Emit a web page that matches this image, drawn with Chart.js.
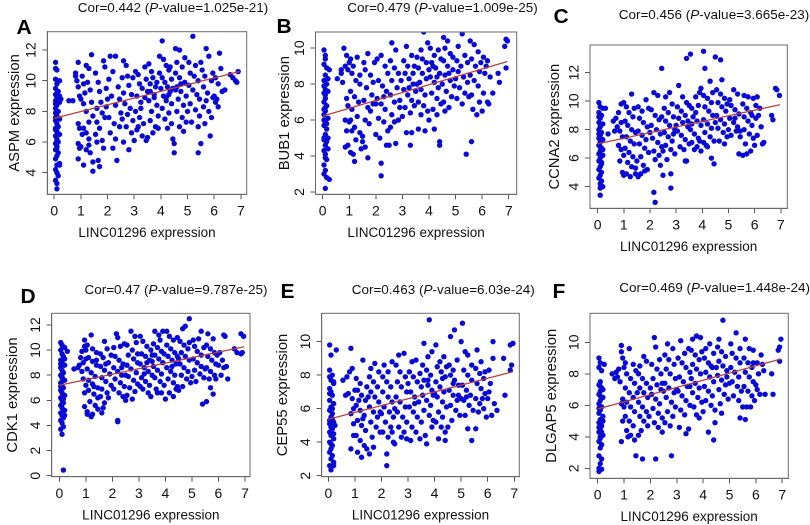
<!DOCTYPE html>
<html>
<head>
<meta charset="utf-8">
<script src="https://cdn.jsdelivr.net/npm/chart.js@4.4.1/dist/chart.umd.min.js"></script>
<style>
  html, body { margin: 0; padding: 0; background: #fff; }
  #wrap { position: relative; width: 810px; height: 525px; overflow: hidden; font-family: "Liberation Sans", Arial, sans-serif; }
  canvas { position: absolute; }
  .ttl { position: absolute; transform: translate(-50%, -50%); white-space: nowrap; font-size: 13.5px; line-height: 1; color: #111; }
  .lett { position: absolute; transform: translate(-50%, -50%); font-size: 21px; font-weight: bold; line-height: 1; color: #000; }
</style>
</head>
<body>
<div id="wrap"></div>
<script>
// ---------------- DATA ----------------
const xTicks = [0, 1, 2, 3, 4, 5, 6, 7];
const xLabel = 'LINC01296 expression';

const yTicksA = [4, 6, 8, 10, 12];
const yTicksB = [2, 4, 6, 8, 10];
const yTicksC = [4, 6, 8, 10, 12];
const yTicksD = [0, 2, 4, 6, 8, 10, 12];
const yTicksE = [2, 4, 6, 8, 10];
const yTicksF = [2, 4, 6, 8, 10];

const yLabels = ['ASPM expression', 'BUB1 expression', 'CCNA2 expression', 'CDK1 expression', 'CEP55 expression', 'DLGAP5 expression'];
const panelLetters = ['A', 'B', 'C', 'D', 'E', 'F'];
const corValues = ['0.442', '0.479', '0.456', '0.47', '0.463', '0.469'];
const pValues = ['1.025e-21', '1.009e-25', '3.665e-23', '9.787e-25', '6.03e-24', '1.448e-24'];

// fitted regression lines: [x, y] at both ends
const fitA = [[0, 7.55], [6.95, 10.6]];
const fitB = [[0, 6.22], [6.95, 9.26]];
const fitC = [[0, 7.0], [6.97, 9.75]];
const fitD = [[0, 7.2], [6.97, 10.27]];
const fitE = [[0, 5.37], [6.95, 8.2]];
const fitF = [[0, 5.77], [6.95, 8.94]];

const ptsA = [
[0.05,11.2],[0.05,10.8],[0.1,10.7],[0.2,10.0],[0.05,10.1],[0.1,9.8],[0.05,9.5],[0.15,9.3],[0.05,9.1],[0.1,8.9],
[0.05,8.7],[0.2,8.6],[0.1,8.4],[0.05,8.2],[0.15,8.0],[0.05,7.9],[0.1,7.7],[0.2,7.5],[0.05,7.4],[0.1,7.2],
[0.15,7.0],[0.05,6.9],[0.1,6.7],[0.2,6.5],[0.05,6.4],[0.1,6.2],[0.15,6.0],[0.05,5.9],[0.1,5.7],[0.05,5.5],
[0.15,5.3],[0.1,5.1],[0.05,4.9],[0.2,4.6],[0.1,4.5],[0.05,4.2],[0.1,4.0],[0.15,3.8],[0.05,3.5],[0.1,3.3],
[0.1,2.95],[0.05,8.5],[0.1,9.2],[0.05,6.8],[0.1,5.6],[0.2,9.0],[0.25,8.8],[0.2,4.5],[0.05,7.6],[0.1,6.1],
[0.55,8.7],[0.7,8.7],[0.8,10.5],[0.9,11.2],[0.85,10.0],[0.9,9.6],[0.95,9.0],[1.0,8.8],[0.9,7.2],[0.95,6.9],
[0.9,5.9],[0.95,5.6],[0.9,4.9],[1.0,5.7],[0.8,10.3],
[1.05,10.3],[1.1,9.8],[1.2,11.0],[1.3,10.8],[1.15,9.2],[1.1,8.5],[1.2,8.0],[1.3,7.3],[1.1,6.9],[1.2,6.6],
[1.05,6.5],[1.3,6.2],[1.2,5.5],[1.35,5.3],[1.1,4.5],[1.45,4.7],[1.45,4.1],[1.4,11.7],[1.35,9.4],[1.4,8.6],
[1.25,9.9],[1.45,7.7],[1.3,5.8],
[1.55,10.5],[1.65,9.9],[1.7,9.3],[1.6,8.2],[1.75,8.6],[1.8,7.9],[1.6,7.3],[1.7,6.9],[1.55,6.5],[1.8,6.1],
[1.65,4.8],[1.7,4.4],[1.9,10.9],[1.85,11.3],[1.95,9.5],[1.95,8.3],[1.9,7.6],[1.6,6.0],[1.85,5.6],
[2.1,11.6],[2.3,11.6],[2.05,10.1],[2.2,10.6],[2.15,9.0],[2.3,8.4],[2.05,7.6],[2.25,7.2],[2.1,6.6],[2.3,6.2],
[2.2,5.6],[2.35,4.8],[2.4,9.6],[2.45,8.8],[2.5,7.9],[2.0,8.8],[2.45,7.0],
[2.6,11.3],[2.7,11.0],[2.55,10.2],[2.75,10.3],[2.8,9.7],[2.6,9.2],[2.65,8.5],[2.85,8.2],[2.55,7.5],[2.7,7.0],
[2.9,6.6],[2.6,6.0],[2.8,5.5],[2.95,10.2],[2.9,9.1],[2.75,7.8],[2.95,7.4],[3.0,6.1],
[3.05,10.6],[3.15,10.4],[3.2,9.8],[3.3,9.5],[3.1,9.0],[3.25,8.6],[3.4,8.9],[3.05,8.0],[3.2,7.6],[3.35,7.2],
[3.1,6.8],[3.3,6.4],[3.45,6.1],[3.4,10.9],[3.45,10.1],[3.25,8.2],[3.5,9.3],[3.15,7.0],
[3.55,11.1],[3.65,10.6],[3.7,10.2],[3.6,9.8],[3.8,9.6],[3.75,9.1],[3.55,8.7],[3.85,8.4],[3.65,8.0],[3.9,7.7],
[3.6,7.4],[3.8,7.0],[3.7,6.6],[3.95,11.6],[3.95,10.5],[3.85,9.9],[3.5,6.3],[3.9,6.9],[3.75,8.9],[3.6,9.3],
[4.05,12.6],[4.1,11.4],[4.2,11.0],[4.3,10.7],[4.05,10.2],[4.15,9.9],[4.25,9.6],[4.35,9.3],[4.1,9.0],[4.2,8.7],
[4.4,8.5],[4.05,8.2],[4.3,7.9],[4.15,7.5],[4.4,7.2],[4.25,6.9],[4.45,6.2],[4.5,5.9],[4.5,5.3],[4.4,10.1],
[4.45,9.5],[4.35,10.9],[4.0,9.5],[4.2,8.9],[4.3,9.1],
[4.55,12.1],[4.7,12.0],[4.6,11.2],[4.8,10.9],[4.55,10.5],[4.7,10.2],[4.9,9.9],[4.6,9.6],[4.75,9.3],[4.95,9.0],
[4.65,8.8],[4.85,8.4],[4.6,8.0],[4.8,7.6],[4.95,7.3],[4.7,7.0],[4.85,6.7],[4.9,11.5],[4.55,9.4],[4.75,9.8],
[5.2,12.9],[5.05,11.2],[5.3,11.0],[5.1,10.5],[5.25,10.3],[5.4,10.0],[5.05,9.7],[5.2,9.4],[5.35,9.1],[5.45,8.8],
[5.1,8.5],[5.3,8.1],[5.45,7.7],[5.15,7.3],[5.4,7.0],[5.4,5.3],[5.5,11.2],[5.0,8.0],
[5.55,10.7],[5.7,12.1],[5.8,11.6],[5.65,10.3],[5.9,10.0],[5.6,9.6],[5.75,9.2],[5.95,8.9],[5.6,8.3],[5.8,8.0],
[5.9,7.6],[5.65,7.2],[5.5,5.9],[5.85,6.4],[5.95,10.5],[5.7,8.7],
[6.2,11.8],[6.25,10.8],[6.05,10.2],[6.15,9.8],[6.0,9.0],[6.1,8.8],[6.3,9.3],[6.15,8.3],[6.6,10.4],[6.7,10.2],
[6.8,10.0],[6.9,10.6],[6.85,9.9],[6.4,9.4],[6.05,8.6]
];

const ptsB = [
[0.05,9.9],[0.1,9.6],[0.05,9.1],[0.15,8.9],[0.25,8.8],[0.1,8.5],[0.05,8.2],[0.15,8.0],[0.1,7.7],[0.05,7.5],
[0.2,7.6],[0.1,7.2],[0.05,7.0],[0.15,6.8],[0.1,6.5],[0.05,6.3],[0.2,6.1],[0.1,5.9],[0.05,5.7],[0.15,5.5],
[0.1,5.2],[0.05,5.0],[0.15,4.8],[0.1,4.6],[0.05,4.3],[0.1,4.1],[0.15,3.8],[0.05,3.5],[0.1,3.2],[0.05,3.0],
[0.15,2.8],[0.25,2.7],[0.1,2.2],[0.05,6.0],[0.1,6.7],[0.2,5.0],[0.05,4.9],[0.1,9.4],[0.2,8.3],[0.05,7.9],
[0.15,5.8],[0.1,3.9],[0.2,4.4],[0.05,6.6],[0.1,7.4],
[0.55,8.3],[0.7,8.6],[0.8,10.0],[0.9,9.6],[0.85,9.0],[0.95,8.8],[0.75,8.1],[0.9,7.2],[0.95,6.8],[0.85,6.0],
[0.9,5.4],[0.95,4.6],[0.85,4.5],[1.0,9.2],[0.7,8.8],
[1.05,9.4],[1.15,9.0],[1.3,9.5],[1.1,8.6],[1.25,8.2],[1.4,8.5],[1.05,7.6],[1.2,7.3],[1.35,7.0],[1.1,6.6],
[1.3,6.2],[1.05,6.0],[1.2,5.6],[1.4,5.3],[1.1,5.4],[1.25,4.9],[1.15,4.1],[1.05,4.2],[1.2,3.7],[1.45,4.4],
[1.4,8.0],[1.0,5.9],
[1.55,9.2],[1.7,9.7],[1.6,8.8],[1.8,8.5],[1.65,7.8],[1.85,7.4],[1.55,7.1],[1.7,6.7],[1.9,6.9],[1.6,6.0],
[1.75,5.8],[1.5,5.1],[1.6,4.5],[1.7,3.9],[1.95,9.2],[1.9,8.1],[1.8,6.5],[1.5,4.8],
[2.05,9.4],[2.2,9.6],[2.35,9.0],[2.1,8.2],[2.25,7.9],[2.4,7.6],[2.05,7.2],[2.2,6.9],[2.35,6.6],[2.1,6.1],
[2.3,5.9],[2.0,5.2],[2.15,5.0],[2.45,5.4],[2.2,3.6],[2.2,2.9],[2.4,4.6],[2.45,8.6],[2.0,6.9],[2.3,7.3],
[2.6,10.3],[2.75,9.9],[2.55,9.3],[2.7,8.9],[2.85,8.6],[2.6,8.2],[2.8,7.8],[2.55,7.4],[2.7,7.0],[2.9,6.7],
[2.6,6.3],[2.85,6.0],[2.55,5.6],[2.75,4.7],[2.95,8.2],[2.9,7.1],[2.7,5.9],[2.5,4.6],
[3.15,10.1],[3.05,9.3],[3.2,9.0],[3.35,9.6],[3.1,8.6],[3.25,8.3],[3.4,8.0],[3.05,7.7],[3.2,7.4],[3.35,7.1],
[3.1,6.7],[3.3,6.4],[3.45,6.8],[3.15,5.3],[3.35,5.3],[3.3,4.6],[3.45,9.0],[3.0,6.2],[3.25,7.8],[3.4,8.6],
[3.55,9.5],[3.7,9.9],[3.8,10.9],[3.6,8.9],[3.75,8.6],[3.9,8.3],[3.55,8.0],[3.7,7.7],[3.85,7.4],[3.6,7.0],
[3.8,6.8],[3.95,6.5],[3.7,6.3],[3.6,5.5],[3.85,5.4],[3.95,10.3],[3.9,9.2],[3.65,8.1],[3.5,7.6],[3.75,9.4],
[4.05,10.0],[4.2,9.6],[4.35,9.9],[4.1,9.2],[4.25,8.9],[4.4,8.6],[4.05,8.4],[4.2,8.1],[4.35,7.8],[4.1,7.5],
[4.3,7.2],[4.45,6.9],[4.15,6.6],[4.3,6.3],[4.0,6.0],[4.2,5.5],[4.4,4.8],[4.4,4.6],[4.45,9.4],[4.0,8.8],
[4.3,8.4],[4.15,9.0],
[4.55,10.6],[4.7,10.4],[4.6,10.0],[4.8,9.7],[4.55,9.3],[4.7,9.0],[4.9,8.8],[4.6,8.5],[4.8,8.2],[4.95,7.9],
[4.65,7.6],[4.85,7.3],[4.55,7.0],[4.75,6.7],[4.6,6.5],[4.9,9.5],[4.5,8.0],[4.75,8.6],
[5.1,10.1],[5.25,10.8],[5.35,9.6],[5.05,9.3],[5.2,9.0],[5.45,9.2],[5.1,8.7],[5.3,8.4],[5.45,8.1],[5.15,7.8],
[5.35,7.5],[5.05,7.2],[5.25,6.9],[5.4,4.1],[5.5,7.3],[5.0,8.3],
[5.55,10.4],[5.7,10.2],[5.85,9.8],[5.6,9.4],[5.75,9.0],[5.9,8.7],[5.55,8.5],[5.7,8.2],[5.85,7.9],[5.6,7.4],
[5.9,7.0],[5.65,6.6],[5.8,6.3],[5.6,4.8],[5.95,9.2],[6.0,6.5],
[6.05,9.5],[6.2,9.3],[6.1,8.6],[6.3,8.4],[6.05,7.5],[6.2,7.0],[6.4,7.5],[6.25,6.9],[6.6,8.6],[6.65,8.1],
[6.85,10.1],[6.95,10.4],[6.9,10.5],[6.9,8.9],[6.15,9.0]
];

const ptsC = [
[0.05,9.9],[0.1,9.6],[0.2,9.5],[0.05,9.2],[0.15,9.0],[0.1,8.8],[0.05,8.5],[0.2,8.4],[0.1,8.2],[0.05,8.0],
[0.15,7.8],[0.1,7.6],[0.05,7.4],[0.2,7.3],[0.1,7.1],[0.05,6.9],[0.15,6.7],[0.1,6.5],[0.05,6.3],[0.2,6.2],
[0.1,6.0],[0.05,5.8],[0.15,5.6],[0.1,5.4],[0.05,5.2],[0.15,5.0],[0.1,4.8],[0.05,4.6],[0.15,4.4],[0.1,4.2],
[0.2,4.0],[0.1,3.9],[0.1,3.4],[0.3,9.5],[0.4,7.7],[0.05,7.7],[0.1,6.8],[0.15,5.7],[0.05,8.9],[0.2,6.6],
[0.6,8.6],[0.7,8.8],[0.8,9.2],[0.9,9.8],[1.0,9.9],[0.75,8.2],[0.85,7.9],[0.95,7.5],[0.8,6.9],[0.9,6.6],
[1.0,6.2],[0.85,5.8],[0.95,5.0],[1.0,4.8],[0.65,7.9],[0.9,8.5],
[1.1,9.6],[1.3,10.5],[1.2,9.2],[1.35,8.9],[1.05,8.6],[1.15,8.3],[1.3,8.0],[1.45,7.8],[1.1,7.5],[1.25,7.2],
[1.4,7.0],[1.05,6.7],[1.2,6.4],[1.35,6.1],[1.15,5.7],[1.3,5.4],[1.1,4.9],[1.25,4.7],[1.45,5.3],[1.4,9.5],
[1.45,4.9],
[1.55,9.6],[1.7,9.3],[1.85,10.1],[1.6,8.8],[1.75,8.5],[1.9,8.2],[1.55,7.9],[1.7,7.6],[1.85,7.3],[1.6,7.0],
[1.8,6.7],[1.95,6.4],[1.65,6.1],[1.5,5.8],[1.75,5.5],[1.9,5.2],[1.65,4.9],[1.55,4.7],[1.95,9.5],[1.8,5.1],
[2.15,10.6],[2.3,10.4],[2.45,12.3],[2.05,9.4],[2.2,9.0],[2.35,8.7],[2.05,8.3],[2.25,8.0],[2.4,7.7],[2.1,7.4],
[2.3,7.1],[2.45,6.8],[2.15,6.5],[2.35,6.2],[2.2,5.9],[2.4,5.5],[2.5,4.8],[2.15,3.6],[2.2,2.9],[2.0,7.8],
[2.45,8.9],
[2.6,10.3],[2.75,10.6],[2.85,9.8],[2.55,9.5],[2.7,9.2],[2.9,8.9],[2.6,8.6],[2.75,8.3],[2.95,8.0],[2.55,7.8],
[2.7,7.5],[2.85,7.2],[2.6,6.9],[2.8,6.6],[2.95,6.3],[2.65,5.9],[2.8,4.9],[2.8,3.9],[2.5,6.5],[2.9,7.7],
[3.1,11.1],[3.25,10.3],[3.4,9.9],[3.05,9.6],[3.2,9.3],[3.35,9.0],[3.5,9.7],[3.1,8.8],[3.25,8.5],[3.45,8.2],
[3.05,7.9],[3.2,7.6],[3.35,7.3],[3.5,7.0],[3.15,6.8],[3.3,6.6],[3.4,5.8],[3.35,5.8],[3.4,13.0],[3.45,8.6],
[3.0,8.3],
[3.55,13.3],[3.6,9.5],[3.75,9.2],[3.9,10.6],[3.95,10.9],[3.65,8.9],[3.8,8.6],[3.95,8.3],[3.55,8.0],[3.7,7.7],
[3.85,7.4],[3.6,7.1],[3.8,6.8],[3.95,6.5],[3.7,6.6],[3.9,7.2],[3.85,9.7],[3.6,8.4],[3.75,10.3],
[4.05,13.5],[4.1,12.3],[4.3,11.4],[4.05,10.4],[4.2,10.2],[4.35,9.9],[4.1,9.6],[4.25,9.3],[4.4,9.0],[4.05,8.7],
[4.2,8.4],[4.35,8.1],[4.1,7.8],[4.3,7.5],[4.45,7.2],[4.15,6.9],[4.35,6.0],[4.45,5.6],[4.05,7.1],[4.4,10.6],
[4.2,6.8],
[4.5,13.1],[4.7,12.9],[4.75,11.5],[4.55,10.8],[4.7,10.5],[4.85,10.2],[4.6,9.9],[4.75,9.6],[4.9,9.3],[4.55,9.0],
[4.7,8.7],[4.85,8.4],[4.6,8.1],[4.8,7.8],[4.95,7.5],[4.65,7.2],[4.85,7.0],[4.5,8.5],[4.95,9.8],
[5.05,10.1],[5.2,10.8],[5.35,10.5],[5.1,9.7],[5.25,9.4],[5.4,9.1],[5.05,8.8],[5.2,8.5],[5.35,8.2],[5.45,7.9],
[5.1,7.6],[5.3,7.9],[5.45,7.5],[5.4,6.3],[5.0,8.0],[5.25,8.8],
[5.6,10.4],[5.75,10.3],[5.55,9.8],[5.7,9.5],[5.85,9.2],[5.95,10.2],[5.6,8.9],[5.75,8.6],[5.9,8.3],[5.6,8.0],
[5.8,7.7],[5.95,7.4],[5.65,7.0],[5.55,6.2],[5.85,6.5],[5.7,6.3],[5.9,9.0],
[6.1,10.3],[6.05,9.7],[6.2,9.5],[6.05,8.8],[6.25,8.2],[6.1,7.6],[6.3,7.0],[6.0,6.9],[6.15,9.0],[6.65,9.0],
[6.7,8.7],[6.8,10.9],[6.85,10.8],[6.95,10.4],[6.35,7.1]
];

const ptsD = [
[0.05,10.6],[0.1,10.4],[0.2,10.2],[0.3,9.9],[0.05,10.0],[0.1,9.7],[0.15,9.5],[0.05,9.2],[0.1,9.0],[0.2,8.8],
[0.05,8.6],[0.1,8.4],[0.15,8.2],[0.05,8.0],[0.1,7.8],[0.2,7.6],[0.05,7.4],[0.1,7.2],[0.15,7.0],[0.05,6.8],
[0.1,6.6],[0.2,6.4],[0.05,6.2],[0.1,6.0],[0.15,5.8],[0.05,5.6],[0.1,5.4],[0.2,5.2],[0.05,5.0],[0.1,4.8],
[0.15,4.6],[0.05,4.4],[0.1,4.2],[0.15,3.9],[0.05,3.7],[0.1,3.3],[0.15,0.45],[0.2,9.3],[0.05,7.1],[0.15,6.1],
[0.1,5.7],[0.2,4.8],[0.05,8.9],[0.1,7.9],
[0.55,8.5],[0.7,8.6],[0.85,9.9],[0.95,10.3],[0.95,10.8],[0.8,9.4],[0.9,9.0],[1.0,9.3],[0.75,8.8],[0.9,7.7],
[1.0,7.2],[0.95,6.6],[0.95,5.5],[0.85,8.3],[1.0,10.0],
[1.2,11.2],[1.05,10.4],[1.25,10.1],[1.4,9.8],[1.1,9.4],[1.25,9.1],[1.4,8.8],[1.05,8.5],[1.2,8.2],[1.35,7.9],
[1.1,7.6],[1.25,7.3],[1.45,7.0],[1.1,6.8],[1.3,6.5],[1.45,6.2],[1.15,5.9],[1.35,5.6],[1.05,5.1],[1.25,4.9],
[1.45,5.3],[1.05,4.9],[1.2,4.7],[1.4,9.2],[1.3,7.1],
[1.55,9.7],[1.7,10.7],[1.8,10.1],[1.65,9.4],[1.85,9.0],[1.55,8.7],[1.7,8.4],[1.9,8.1],[1.6,7.8],[1.75,7.5],
[1.95,7.2],[1.6,6.9],[1.8,6.6],[1.55,6.3],[1.7,5.8],[1.65,5.4],[1.6,5.0],[1.85,6.2],[1.95,9.6],[1.75,8.9],
[2.15,11.3],[2.2,11.0],[2.05,10.2],[2.3,10.3],[2.45,10.5],[2.1,9.5],[2.25,9.2],[2.4,8.9],[2.05,8.6],[2.2,8.3],
[2.35,8.0],[2.1,7.7],[2.3,7.4],[2.45,7.1],[2.05,6.9],[2.25,6.6],[2.4,6.3],[2.2,4.4],[2.2,4.3],[2.5,6.0],
[2.35,8.6],
[2.7,11.5],[2.85,11.1],[2.55,10.4],[2.75,10.0],[2.9,10.6],[2.6,9.6],[2.8,9.3],[2.95,9.0],[2.55,8.8],[2.7,8.5],
[2.9,8.2],[2.6,7.9],[2.8,7.6],[2.95,7.3],[2.65,7.0],[2.85,6.7],[2.55,6.4],[2.75,6.1],[2.5,8.0],[2.95,9.7],
[3.05,11.1],[3.15,10.7],[3.3,10.3],[3.45,10.0],[3.1,9.7],[3.25,9.5],[3.4,9.2],[3.05,8.9],[3.2,8.6],[3.35,8.3],
[3.5,8.0],[3.1,7.8],[3.25,7.5],[3.4,7.2],[3.15,6.9],[3.35,6.6],[3.45,6.3],[3.05,7.1],[3.3,9.0],[3.5,9.6],
[3.2,8.1],
[3.6,11.5],[3.75,11.2],[3.9,11.5],[3.55,10.5],[3.7,10.2],[3.85,9.9],[3.6,9.6],[3.75,9.3],[3.9,9.0],[3.55,8.7],
[3.7,8.4],[3.85,8.1],[3.6,7.8],[3.8,7.5],[3.95,7.2],[3.65,6.9],[3.85,6.6],[3.7,6.6],[3.95,9.7],[3.8,10.8],
[3.5,9.1],
[4.05,11.5],[4.15,11.1],[4.3,10.8],[4.45,11.0],[4.05,10.4],[4.2,10.1],[4.35,9.8],[4.1,9.5],[4.25,9.2],[4.4,8.9],
[4.05,8.6],[4.2,8.3],[4.35,8.0],[4.1,7.7],[4.3,7.4],[4.45,7.1],[4.15,6.6],[4.3,6.3],[4.4,6.9],[4.0,6.1],
[4.45,9.5],[4.25,8.7],
[4.65,11.7],[4.75,11.9],[4.9,12.5],[4.55,10.7],[4.7,10.4],[4.85,10.1],[4.6,9.8],[4.75,9.5],[4.9,9.2],[4.55,8.9],
[4.7,8.6],[4.85,8.3],[4.6,8.0],[4.8,7.7],[4.95,7.4],[4.65,7.1],[4.5,6.8],[4.9,10.6],[4.5,9.3],
[5.05,10.8],[5.25,10.9],[5.35,11.5],[5.1,10.3],[5.2,9.9],[5.35,9.6],[5.45,10.2],[5.05,9.3],[5.2,9.0],[5.35,8.7],
[5.1,8.4],[5.3,8.1],[5.45,7.8],[5.15,7.5],[5.4,5.7],[5.5,8.5],[5.0,7.9],
[5.6,11.3],[5.8,10.9],[5.55,10.4],[5.7,10.1],[5.85,9.8],[5.6,9.5],[5.75,9.2],[5.9,8.9],[5.55,8.6],[5.7,8.3],
[5.85,8.0],[5.65,7.7],[5.55,5.9],[5.8,6.5],[5.95,9.6],[5.7,7.0],[5.9,7.7],
[6.2,11.2],[6.25,11.1],[6.05,9.8],[6.15,9.2],[6.0,8.8],[6.2,8.6],[6.35,7.7],[6.1,8.0],[6.6,10.1],[6.7,9.8],
[6.85,11.3],[6.95,11.1],[6.9,9.8],[6.85,9.7],[6.3,8.7]
];

const ptsE = [
[0.05,9.8],[0.1,9.2],[0.3,9.5],[0.05,8.3],[0.15,8.0],[0.1,7.7],[0.2,7.5],[0.05,7.2],[0.1,7.0],[0.15,6.8],
[0.05,6.5],[0.2,6.3],[0.1,6.1],[0.05,5.9],[0.15,5.7],[0.1,5.5],[0.05,5.3],[0.2,5.2],[0.1,5.0],[0.15,4.8],
[0.05,4.6],[0.1,4.4],[0.2,4.2],[0.05,4.0],[0.15,3.8],[0.1,3.6],[0.05,3.4],[0.15,3.2],[0.1,3.0],[0.2,2.8],
[0.05,2.6],[0.1,2.35],[0.2,7.6],[0.05,7.9],[0.15,5.4],[0.1,4.9],[0.2,4.5],[0.05,5.1],[0.15,6.0],[0.25,5.0],
[0.1,3.9],[0.2,2.6],[0.05,6.9],
[0.55,7.7],[0.7,7.9],[0.8,8.2],[0.85,9.6],[0.9,8.4],[0.75,6.9],[0.9,6.6],[0.95,6.0],[0.85,5.7],[0.95,4.4],
[0.85,3.6],[1.0,7.1],[0.65,6.8],[0.95,5.1],
[1.05,7.8],[1.2,7.5],[1.3,8.9],[1.1,7.1],[1.25,6.8],[1.4,6.5],[1.05,6.2],[1.2,5.9],[1.35,5.6],[1.1,5.3],
[1.25,5.0],[1.4,4.7],[1.05,4.4],[1.2,4.1],[1.35,3.8],[1.1,3.4],[1.25,3.1],[1.45,3.6],[1.15,6.5],[1.45,7.3],
[1.3,5.4],
[1.6,8.4],[1.75,8.7],[1.9,8.2],[1.55,7.9],[1.7,7.6],[1.85,7.3],[1.6,7.0],[1.75,6.7],[1.9,6.4],[1.55,6.1],
[1.7,5.8],[1.85,5.5],[1.6,5.2],[1.8,4.9],[1.95,4.6],[1.65,4.3],[1.55,3.3],[1.7,3.7],[1.5,6.7],[1.95,5.8],
[2.1,8.6],[2.25,8.2],[2.4,8.8],[2.05,7.9],[2.2,7.6],[2.35,7.3],[2.05,7.0],[2.25,6.7],[2.4,6.4],[2.1,6.1],
[2.3,5.8],[2.45,5.5],[2.15,5.2],[2.35,4.9],[2.05,4.6],[2.25,4.3],[2.45,4.0],[2.2,3.3],[2.2,2.6],[2.0,5.7],
[2.4,4.6],
[2.65,9.2],[2.85,9.3],[2.55,8.6],[2.7,8.2],[2.9,7.9],[2.6,7.6],[2.75,7.3],[2.95,7.0],[2.55,6.7],[2.7,6.4],
[2.9,6.1],[2.6,5.8],[2.8,5.5],[2.95,5.2],[2.65,4.9],[2.85,4.6],[2.5,3.9],[2.75,4.3],[2.95,4.2],[2.5,6.0],
[3.15,8.8],[3.3,8.9],[3.05,8.2],[3.2,7.9],[3.35,7.6],[3.5,7.3],[3.1,7.0],[3.25,6.7],[3.4,6.4],[3.05,6.1],
[3.2,5.8],[3.35,5.5],[3.5,5.2],[3.15,4.9],[3.3,4.6],[3.45,4.2],[3.1,4.1],[3.25,6.3],[3.45,8.1],[3.0,7.5],
[3.8,11.3],[3.6,9.9],[3.75,9.1],[3.9,9.4],[3.55,8.6],[3.7,8.3],[3.85,8.0],[3.6,7.7],[3.75,7.4],[3.9,7.1],
[3.55,6.8],[3.7,6.5],[3.85,6.2],[3.6,5.9],[3.8,5.6],[3.95,5.3],[3.65,4.4],[3.7,3.9],[3.9,4.9],[3.95,6.8],
[3.75,7.7],
[4.05,9.8],[4.2,8.8],[4.35,9.1],[4.1,8.5],[4.25,8.2],[4.4,7.9],[4.05,7.6],[4.2,7.3],[4.35,7.0],[4.1,6.7],
[4.3,6.4],[4.45,6.1],[4.15,5.8],[4.3,5.5],[4.05,5.2],[4.25,4.9],[4.4,4.6],[4.15,4.2],[4.4,4.1],[4.45,8.5],
[4.0,6.9],[4.3,7.8],
[4.6,10.3],[4.75,10.7],[4.55,8.6],[4.7,8.3],[4.85,8.9],[4.6,8.0],[4.75,7.7],[4.9,7.4],[4.55,7.1],[4.7,6.8],
[4.85,6.5],[4.6,6.2],[4.8,5.9],[4.95,5.6],[4.65,5.3],[4.5,4.9],[4.9,6.8],[4.7,7.5],
[5.05,11.1],[5.0,10.0],[5.15,9.4],[5.25,9.2],[5.4,8.6],[5.1,8.3],[5.25,8.0],[5.4,7.7],[5.05,7.4],[5.2,7.1],
[5.35,6.8],[5.1,6.5],[5.3,6.2],[5.45,5.9],[5.15,5.6],[5.25,4.8],[5.4,4.1],[5.2,6.7],[5.0,6.6],
[5.6,9.5],[5.75,8.8],[5.55,8.4],[5.7,8.1],[5.85,7.8],[5.6,7.5],[5.75,7.2],[5.9,6.9],[5.55,6.6],[5.7,6.3],
[5.85,6.0],[5.65,5.8],[5.55,4.8],[5.95,5.5],[5.9,8.2],[5.8,6.6],
[6.05,8.3],[6.2,10.0],[6.1,7.5],[6.25,6.3],[6.05,7.0],[6.15,5.6],[6.35,5.9],[6.0,6.6],[6.2,9.0],[6.6,9.0],
[6.65,6.8],[6.85,9.8],[6.95,9.9],[6.9,8.6],[6.85,8.3]
];

const ptsF = [
[0.05,9.0],[0.1,8.7],[0.25,8.6],[0.05,8.4],[0.15,8.2],[0.1,7.5],[0.05,7.3],[0.15,7.1],[0.1,6.9],[0.05,6.7],
[0.2,6.5],[0.1,6.3],[0.05,6.1],[0.15,5.9],[0.1,5.7],[0.05,5.5],[0.2,5.3],[0.1,5.1],[0.05,4.9],[0.15,4.7],
[0.1,4.5],[0.05,4.3],[0.2,4.1],[0.1,3.9],[0.05,3.7],[0.15,3.5],[0.1,3.3],[0.05,2.8],[0.15,2.6],[0.1,2.3],
[0.05,2.0],[0.15,1.95],[0.05,1.8],[0.1,6.6],[0.2,5.0],[0.05,4.6],[0.15,4.3],[0.1,7.2],[0.2,7.0],[0.05,5.8],
[0.1,4.0],
[0.55,8.0],[0.7,8.1],[0.8,8.3],[0.9,9.8],[0.9,9.4],[0.95,9.0],[0.75,7.8],[0.85,7.5],[0.95,6.4],[0.9,6.1],
[1.0,5.9],[0.95,5.0],[0.9,3.7],[0.65,7.7],[1.0,8.4],
[1.05,8.7],[1.2,9.6],[1.35,8.6],[1.1,8.0],[1.25,7.7],[1.4,7.4],[1.05,7.1],[1.2,6.8],[1.35,6.5],[1.1,6.2],
[1.25,5.9],[1.4,5.6],[1.05,5.3],[1.2,5.0],[1.35,4.7],[1.1,4.4],[1.25,4.1],[1.4,3.8],[1.45,2.8],[1.15,4.0],
[1.45,8.2],
[1.6,8.5],[1.75,9.1],[1.85,8.8],[1.55,8.0],[1.7,7.7],[1.85,7.4],[1.6,7.1],[1.75,6.8],[1.9,6.5],[1.55,6.2],
[1.7,5.9],[1.85,5.6],[1.6,5.3],[1.75,5.0],[1.9,4.7],[1.65,4.4],[1.55,4.1],[1.7,2.6],[1.95,5.3],[1.5,6.8],
[2.15,10.3],[2.2,9.7],[2.35,8.9],[2.05,8.6],[2.25,8.3],[2.4,8.0],[2.1,7.7],[2.25,7.3],[2.4,7.0],[2.05,6.7],
[2.2,6.4],[2.35,6.1],[2.1,5.8],[2.3,5.5],[2.45,5.2],[2.15,4.9],[2.3,4.6],[2.45,4.3],[2.2,2.6],[2.0,7.1],
[2.45,7.4],
[2.65,9.9],[2.85,9.6],[2.55,9.2],[2.7,8.9],[2.9,8.6],[2.6,8.3],[2.75,8.0],[2.95,7.7],[2.55,7.4],[2.7,7.1],
[2.9,6.8],[2.6,6.5],[2.8,6.2],[2.95,5.9],[2.65,5.6],[2.85,5.3],[2.55,4.9],[2.75,4.7],[2.8,2.8],[2.5,6.9],
[3.15,10.1],[3.3,9.3],[3.45,9.6],[3.05,9.0],[3.2,8.7],[3.35,8.4],[3.5,8.1],[3.1,7.8],[3.25,7.5],[3.4,7.2],
[3.05,6.9],[3.2,6.6],[3.35,6.3],[3.5,6.0],[3.15,5.7],[3.3,5.4],[3.45,4.5],[3.35,4.2],[3.1,4.6],[3.0,7.0],
[3.6,10.2],[3.75,10.4],[3.9,10.3],[3.55,9.5],[3.7,9.2],[3.85,8.9],[3.6,8.6],[3.75,8.3],[3.9,8.0],[3.55,7.7],
[3.7,7.4],[3.85,7.1],[3.6,6.8],[3.8,6.5],[3.95,6.2],[3.65,5.9],[3.75,5.4],[3.85,5.2],[3.95,9.4],[3.5,7.2],
[4.1,9.6],[4.25,9.9],[4.4,9.3],[4.05,9.0],[4.2,8.7],[4.35,8.4],[4.1,8.1],[4.25,7.8],[4.4,7.5],[4.05,7.2],
[4.2,6.9],[4.35,6.6],[4.1,6.3],[4.3,6.0],[4.45,5.7],[4.2,4.3],[4.4,3.8],[4.45,4.9],[4.0,5.6],[4.3,8.5],
[4.75,11.4],[4.6,10.2],[4.55,9.7],[4.7,9.4],[4.85,9.1],[4.6,8.8],[4.75,8.5],[4.9,8.2],[4.55,7.9],[4.7,7.6],
[4.85,7.3],[4.6,7.0],[4.8,6.7],[4.95,6.4],[4.65,6.1],[4.7,5.5],[4.5,8.4],[4.9,7.8],
[5.05,9.9],[5.25,10.6],[5.4,9.6],[5.1,9.3],[5.25,9.0],[5.4,8.7],[5.05,8.4],[5.2,8.1],[5.35,7.8],[5.1,7.5],
[5.3,7.2],[5.45,6.9],[5.15,6.6],[5.35,6.3],[5.4,5.2],[5.5,5.9],[5.0,7.4],
[5.6,10.2],[5.75,9.6],[5.9,9.5],[5.55,9.0],[5.7,8.7],[5.85,8.4],[5.6,8.1],[5.75,7.8],[5.9,7.5],[5.55,7.2],
[5.7,6.9],[5.85,6.6],[5.65,5.9],[5.6,5.1],[5.8,5.9],[5.95,6.3],[5.9,8.7],
[6.05,8.7],[6.2,9.2],[6.1,8.0],[6.25,8.6],[6.05,7.0],[6.15,6.7],[6.35,6.7],[6.0,7.3],[6.6,8.0],[6.65,6.7],
[6.85,9.5],[6.9,9.7],[6.95,10.2],[6.9,8.8],[6.3,8.2]
];

// ---------------- LAYOUT (pixels) ----------------
const panels = [
  { pts: ptsA, fit: fitA, yTicks: yTicksA, cx: 0,   cy: 0,   cw: 270, ch: 262, L: 47.3,  R: 246.7, T: 31.7,  B: 194.3, xr: [-0.26, 7.22], yr: [2.59, 13.2],  yTitleX: 15,  ttl: [173, 8],     let: [24, 26] },
  { pts: ptsB, fit: fitB, yTicks: yTicksB, cx: 270, cy: 0,   cw: 270, ch: 262, L: 315.5, R: 516.7, T: 32,    B: 194.3, xr: [-0.27, 7.3],  yr: [1.87, 10.9],  yTitleX: 285, ttl: [442.5, 8],   let: [284, 25] },
  { pts: ptsC, fit: fitC, yTicks: yTicksC, cx: 540, cy: 0,   cw: 270, ch: 262, L: 590,   R: 787.3, T: 45,    B: 208.3, xr: [-0.29, 7.25], yr: [2.48, 13.94], yTitleX: 555, ttl: [714, 15],    let: [561, 15] },
  { pts: ptsD, fit: fitD, yTicks: yTicksD, cx: 0,   cy: 262, cw: 270, ch: 263, L: 51.7,  R: 250,   T: 313.3, B: 476.7, xr: [-0.29, 7.19], yr: [-0.08, 12.93],yTitleX: 13,  ttl: [176, 290],   let: [28, 295] },
  { pts: ptsE, fit: fitE, yTicks: yTicksE, cx: 270, cy: 262, cw: 270, ch: 263, L: 321.7, R: 519.3, T: 313.3, B: 476.7, xr: [-0.25, 7.19], yr: [1.94, 11.69], yTitleX: 283, ttl: [443.3, 290], let: [287.5, 290] },
  { pts: ptsF, fit: fitF, yTicks: yTicksF, cx: 540, cy: 262, cw: 270, ch: 263, L: 590,   R: 788.3, T: 313.3, B: 478.3, xr: [-0.29, 7.23], yr: [1.37, 11.84], yTitleX: 552, ttl: [714.7, 288], let: [559, 290] }
];

const FONT = '"Liberation Sans", Arial, Helvetica, sans-serif';
Chart.defaults.font.family = FONT;
Chart.defaults.color = '#111';

const TICK_FONT = 14, XTITLE_FONT = 13.5, YTITLE_FONT = 14.8;
const TICK_LEN = 5;
const XTICK_OFF = 17.5;   // tick label centre below box
const XTITLE_OFF = 39;    // axis title centre below box
const YTICK_OFF = 15.5;   // rotated y tick label centre left of box

const rAxes = {
  id: 'rAxes',
  afterDraw(chart) {
    const { ctx, chartArea: a, scales: { y } } = chart;
    ctx.save();
    ctx.strokeStyle = '#6a6a6a';
    ctx.lineWidth = 1;
    ctx.strokeRect(a.left, a.top, a.right - a.left, a.bottom - a.top);
    ctx.fillStyle = '#111';
    ctx.font = TICK_FONT + 'px ' + FONT;
    ctx.textAlign = 'center';
    ctx.textBaseline = 'middle';
    y.ticks.forEach(t => {
      const py = y.getPixelForValue(t.value);
      ctx.save();
      ctx.translate(a.left - YTICK_OFF, py);
      ctx.rotate(-Math.PI / 2);
      ctx.fillText(String(t.value), 0, 0);
      ctx.restore();
    });
    ctx.restore();
  }
};

const wrap = document.getElementById('wrap');

panels.forEach((p, i) => {
  const cv = document.createElement('canvas');
  cv.style.left = p.cx + 'px';
  cv.style.top = p.cy + 'px';
  cv.style.width = p.cw + 'px';
  cv.style.height = p.ch + 'px';
  cv.width = p.cw; cv.height = p.ch;
  wrap.appendChild(cv);

  const yLh = YTITLE_FONT * 1.2;
  const padL = p.yTitleX - p.cx - yLh / 2;
  const yW = p.L - p.cx - padL;
  const xLh = XTITLE_FONT * 1.0;
  const xH = XTITLE_OFF + xLh / 2;
  const padB = p.cy + p.ch - p.B - xH;
  const padT = p.T - p.cy;
  const padR = p.cx + p.cw - p.R;
  const tickLh = TICK_FONT * 1.2;
  const tickPad = XTICK_OFF - TICK_LEN - tickLh / 2;

  new Chart(cv, {
    data: {
      datasets: [
        {
          type: 'line',
          data: p.fit.map(([x, y]) => ({ x, y })),
          borderColor: '#b5413c',
          borderWidth: 1.3,
          pointRadius: 0,
          fill: false,
          tension: 0
        },
        {
          type: 'scatter',
          data: p.pts.map(([x, y]) => ({ x, y })),
          backgroundColor: '#0a0ad6',
          borderWidth: 0,
          pointRadius: 2.7,
          pointHoverRadius: 2.7
        }
      ]
    },
    options: {
      responsive: false,
      animation: false,
      devicePixelRatio: 2,
      layout: { padding: { left: padL, right: padR, top: padT, bottom: padB } },
      plugins: { legend: { display: false }, tooltip: { enabled: false }, title: { display: false } },
      scales: {
        x: {
          type: 'linear',
          position: 'bottom',
          min: p.xr[0], max: p.xr[1],
          afterBuildTicks: s => { s.ticks = xTicks.map(v => ({ value: v })); },
          afterFit: s => { s.height = xH; },
          grid: { drawOnChartArea: false, drawTicks: true, tickLength: TICK_LEN, color: '#555', lineWidth: 1 },
          border: { display: true, color: '#6a6a6a', width: 1 },
          ticks: { autoSkip: false, maxRotation: 0, minRotation: 0, padding: tickPad, color: '#111',
                   font: { size: TICK_FONT, lineHeight: 1.2 } },
          title: { display: true, text: xLabel, color: '#111', padding: 0, font: { size: XTITLE_FONT, lineHeight: 1.0 } }
        },
        y: {
          type: 'linear',
          position: 'left',
          min: p.yr[0], max: p.yr[1],
          afterBuildTicks: s => { s.ticks = p.yTicks.map(v => ({ value: v })); },
          afterFit: s => { s.width = yW; },
          grid: { drawOnChartArea: false, drawTicks: true, tickLength: TICK_LEN, color: '#555', lineWidth: 1 },
          border: { display: true, color: '#6a6a6a', width: 1 },
          ticks: { display: false },
          title: { display: true, text: yLabels[i], color: '#111', padding: 0, font: { size: YTITLE_FONT, lineHeight: 1.2 } }
        }
      }
    },
    plugins: [rAxes]
  });

  const t = document.createElement('div');
  t.className = 'ttl';
  t.style.left = p.ttl[0] + 'px';
  t.style.top = p.ttl[1] + 'px';
  t.innerHTML = 'Cor=' + corValues[i] + ' (<i>P</i>-value=' + pValues[i] + ')';
  wrap.appendChild(t);

  const l = document.createElement('div');
  l.className = 'lett';
  l.style.left = p.let[0] + 'px';
  l.style.top = p.let[1] + 'px';
  l.textContent = panelLetters[i];
  wrap.appendChild(l);
});
</script>
</body>
</html>
